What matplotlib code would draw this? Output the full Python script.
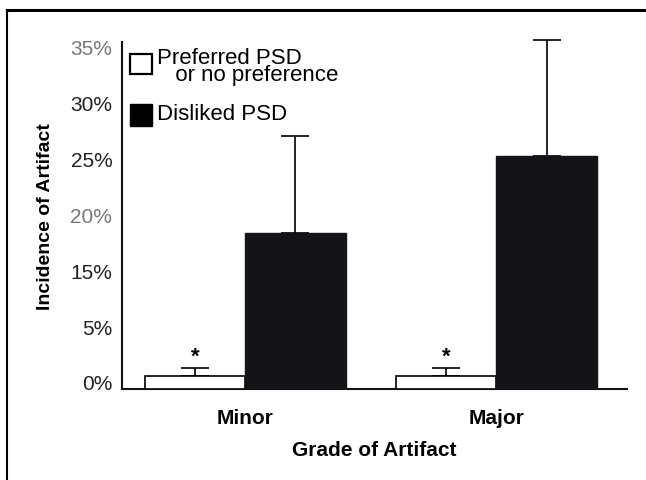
import numpy as np
import matplotlib
matplotlib.use("Agg")
import matplotlib.pyplot as plt
from matplotlib.patches import Rectangle
from matplotlib.lines import Line2D
from matplotlib.transforms import ScaledTranslation

grades = ["Minor", "Major"]
preferred = [1.2, 1.2]
preferred_err = [0.7, 0.7]
disliked = [18.9, 25.8]
disliked_err = [8.7, 10.4]

tick_vals = [0, 5, 15, 20, 25, 30, 35]
tick_labels = ["0%", "5%", "15%", "20%", "25%", "30%", "35%"]
tick_colors = ["#222222", "#222222", "#222222", "#777777", "#222222", "#222222", "#777777"]

# the printed axis has evenly spaced labels but no 10% step
scale_pct = [0, 5, 15, 20, 25, 30, 35, 40]
scale_pos = [0, 1, 2, 3, 4, 5, 6, 7]

def fwd(v):
    return np.interp(v, scale_pct, scale_pos)

def inv(v):
    return np.interp(v, scale_pos, scale_pct)

plt.rcParams["font.family"] = ["Liberation Sans", "DejaVu Sans"]

fig = plt.figure(figsize=(6.46, 4.81), dpi=100)
ax = fig.add_axes([0.1889, 0.1892, 0.7817, 0.7214])
ax.set_yscale("function", functions=(fwd, inv))

x = np.arange(len(grades))
w = 0.40
dark = "#141418"

ax.bar(x - w / 2, preferred, w, color="white", edgecolor="black", linewidth=1.2, zorder=3)
ax.bar(x + w / 2, disliked, w, color=dark, edgecolor=dark, linewidth=1.0, zorder=3)

ax.errorbar(x - w / 2, preferred, yerr=[[0, 0], preferred_err], fmt="none",
            ecolor="black", elinewidth=1.2, capsize=10, capthick=1.2, zorder=2, clip_on=False)
ax.errorbar(x + w / 2, disliked, yerr=[[0, 0], disliked_err], fmt="none",
            ecolor="black", elinewidth=1.2, capsize=10, capthick=1.2, zorder=2, clip_on=False)

for xi, v, e in zip(x - w / 2, preferred, preferred_err):
    ax.annotate("*", (xi, v + e), xytext=(0, 1), textcoords="offset points",
                ha="center", va="bottom", fontsize=16, fontweight="bold")

ax.set_xlim(-0.49, 1.52)
ax.set_ylim(0, 36)

ax.set_xticks(x)
ax.set_xticklabels(grades, fontsize=15, fontweight="bold")
ax.tick_params(axis="x", length=0, pad=14)

ax.set_yticks(tick_vals)
ax.set_yticklabels(tick_labels, fontsize=15)
ax.tick_params(axis="y", length=0, pad=7)
# labels sit a little above their gridline positions in the print
offset = ScaledTranslation(0, 7 / 100, fig.dpi_scale_trans)
for lbl, c in zip(ax.get_yticklabels(), tick_colors):
    lbl.set_color(c)
    lbl.set_transform(lbl.get_transform() + offset)

ax.set_xlabel("Grade of Artifact", fontsize=15, fontweight="bold", labelpad=9)
ax.set_ylabel("Incidence of Artifact", fontsize=14, fontweight="bold", labelpad=12)

for s in ["top", "right"]:
    ax.spines[s].set_visible(False)
for s in ["left", "bottom"]:
    ax.spines[s].set_linewidth(1.5)
    ax.spines[s].set_color("#111111")

# legend drawn by hand, in axes fractions
ax.add_patch(Rectangle((0.016, 0.908), 0.044, 0.057, transform=ax.transAxes,
                       facecolor="white", edgecolor="black", linewidth=1.6, clip_on=False))
ax.add_patch(Rectangle((0.016, 0.758), 0.044, 0.063, transform=ax.transAxes,
                       facecolor="black", edgecolor="black", linewidth=1.0, clip_on=False))
ax.text(0.069, 0.987, "Preferred PSD\n   or no preference", transform=ax.transAxes,
        fontsize=16, va="top", linespacing=0.78)
ax.text(0.069, 0.795, "Disliked PSD", transform=ax.transAxes, fontsize=16, va="center")

# scanned page border
fig.add_artist(Line2D([7 / 646, 7 / 646], [0, 1 - 11 / 481], color="black", linewidth=1.5))
fig.add_artist(Line2D([7 / 646, 1], [1 - 11 / 481, 1 - 11 / 481], color="black", linewidth=2.2))

fig.savefig("out.png", dpi=100)
